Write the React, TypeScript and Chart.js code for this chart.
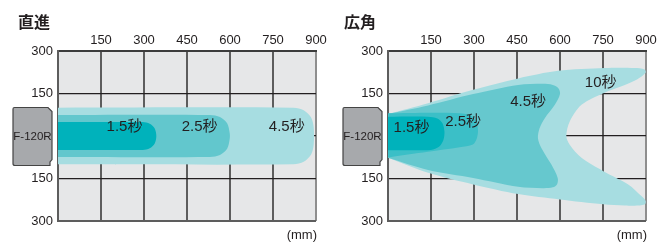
import React, { useEffect, useRef } from 'react';
import { Chart, registerables } from 'chart.js';

Chart.register(...registerables);

// ---- axes ----
const xTicks = [0, 150, 300, 450, 600, 750, 900];
const xTickLabels = ['', '150', '300', '450', '600', '750', '900'];
const yTicks = [-300, -150, 0, 150, 300];
const yTickLabels = ['300', '150', '', '150', '300'];

// ---- 直進 (straight) outlines, [mm x, mm y] ----
const straight15: number[][] = [[0, 49], [296, 49], [320, 43], [337, 27], [343, 0], [337, -27], [320, -43], [296, -49], [0, -49]];
const straight25: number[][] = [[0, 74], [530, 74], [565, 67], [590, 45], [599, 10], [599, -10], [590, -45], [565, -67], [530, -74], [0, -74]];
const straight45: number[][] = [[0, 100], [822, 100], [857, 91], [883, 65], [892, 30], [892, -30], [883, -65], [857, -91], [822, -100], [0, -100]];
const straightLabels = ['1.5秒', '2.5秒', '4.5秒'];
const straightLabelX = [232, 494, 798];
const straightLabelY = [33, 33, 33];

// ---- 広角 (wide) outlines ----
const wide15: number[][] = [[0, 68], [140, 68], [172, 62], [190, 45], [197, 15], [193, -15], [178, -38], [150, -49], [0, -50]];
const wide25: number[][] = [[0, 80], [150, 82], [250, 80], [290, 72], [308, 50], [314, 20], [310, -8], [296, -30], [250, -40], [139, -56], [0, -76]];
const wide45: number[][] = [[0, 78], [140, 108], [297, 148], [454, 180], [540, 184], [575, 180], [595, 168], [600, 148], [582, 110], [547, 63], [529, 28], [523, -8], [535, -42], [570, -101], [592, -148], [590, -170], [575, -181], [540, -184], [454, -179], [297, -148], [140, -120], [0, -77]];
const wide10: number[][] = [[0, 78], [140, 116], [297, 163], [454, 203], [593, 230], [756, 240], [860, 240], [895, 235], [899, 224], [870, 200], [826, 180], [751, 151], [675, 110], [634, 51], [622, 0], [634, -31], [675, -77], [751, -124], [838, -171], [885, -213], [899, -230], [895, -242], [860, -246], [826, -245], [751, -241], [599, -224], [454, -205], [297, -171], [140, -130], [0, -77]];
const wideLabels = ['1.5秒', '2.5秒', '4.5秒', '10秒'];
const wideLabelX = [82, 262, 489, 742];
const wideLabelY = [29, 51, 122, 186];

const sensorName = 'F-120R';
const unitLabel = '(mm)';

const TEXT = '#231f20';
const NUM_FONT = "'Liberation Sans', Arial, sans-serif";
const LABEL_FONT = "15px 'Liberation Sans', 'Noto Sans CJK JP', sans-serif";

type PanelCfg = {
  title: string;
  titleX: number;
  shapes: { data: number[][]; color: string }[];
  labels: string[];
  labelX: number[];
  labelY: number[];
};

const panels: PanelCfg[] = [
  {
    title: '直進',
    titleX: 18,
    shapes: [
      { data: straight15, color: '#00b2bb' },
      { data: straight25, color: '#62c7cd' },
      { data: straight45, color: '#a7dde1' },
    ],
    labels: straightLabels,
    labelX: straightLabelX,
    labelY: straightLabelY,
  },
  {
    title: '広角',
    titleX: 14,
    shapes: [
      { data: wide15, color: '#00b2bb' },
      { data: wide25, color: '#3bbfc7' },
      { data: wide45, color: '#66c8ce' },
      { data: wide10, color: '#a7dde1' },
    ],
    labels: wideLabels,
    labelX: wideLabelX,
    labelY: wideLabelY,
  },
];

function makeDecor(cfg: PanelCfg) {
  return {
    id: 'decor',
    beforeDraw(chart: any) {
      const { ctx, chartArea: a } = chart;
      ctx.save();
      ctx.fillStyle = '#e6e7e8';
      ctx.fillRect(a.left, a.top, a.right - a.left, a.bottom - a.top);
      ctx.restore();
    },
    afterDraw(chart: any) {
      const { ctx, chartArea: a, scales } = chart;
      const xs = scales.x;
      const ys = scales.y;
      const y0 = ys.getPixelForValue(0);
      ctx.save();
      // sensor box
      const L = a.left - 45;
      const R = a.left - 6;
      const T = y0 - 28.5;
      const B = y0 + 29.5;
      ctx.beginPath();
      ctx.moveTo(L + 1.5, T);
      ctx.lineTo(R - 4, T);
      ctx.lineTo(R, T + 4);
      ctx.lineTo(R, B - 6);
      ctx.lineTo(R - 2, B - 3.5);
      ctx.lineTo(R - 2, B);
      ctx.lineTo(L + 2, B);
      ctx.quadraticCurveTo(L, B, L, B - 2);
      ctx.lineTo(L, T + 1.5);
      ctx.quadraticCurveTo(L, T, L + 1.5, T);
      ctx.closePath();
      ctx.fillStyle = '#a7a9ac';
      ctx.fill();
      ctx.strokeStyle = '#444444';
      ctx.lineWidth = 1.2;
      ctx.stroke();
      ctx.fillStyle = TEXT;
      ctx.font = `11.5px ${NUM_FONT}`;
      ctx.textAlign = 'center';
      ctx.textBaseline = 'middle';
      ctx.fillText(sensorName, (L + R) / 2, y0 + 0.5);

      // region labels
      ctx.font = LABEL_FONT;
      ctx.fillStyle = TEXT;
      cfg.labels.forEach((t, i) => {
        ctx.fillText(t, xs.getPixelForValue(cfg.labelX[i]), ys.getPixelForValue(cfg.labelY[i]));
      });

      // title
      ctx.textAlign = 'left';
      ctx.font = "bold 16px 'Noto Sans CJK JP', sans-serif";
      ctx.fillText(cfg.title, cfg.titleX, 21.5);

      // unit
      ctx.textAlign = 'right';
      ctx.font = `13px ${NUM_FONT}`;
      ctx.fillText(unitLabel, a.right + 1, 235);
      ctx.restore();
    },
  };
}

function Panel({ cfg, left, width }: { cfg: PanelCfg; left: number; width: number }) {
  const ref = useRef<HTMLCanvasElement>(null);
  useEffect(() => {
    const canvas = ref.current!;
    const chart = new Chart(canvas, {
      type: 'line',
      data: {
        datasets: cfg.shapes.map((s) => ({
          data: s.data.map(([x, y]) => ({ x, y })),
          backgroundColor: s.color,
          borderColor: 'rgba(0,0,0,0)',
          borderWidth: 0,
          pointRadius: 0,
          pointHoverRadius: 0,
          fill: 'shape',
          tension: 0.3,
        })),
      },
      options: {
        animation: false,
        responsive: false,
        devicePixelRatio: 1,
        events: [],
        layout: { padding: { left: 8, right: width - 316, top: 0, bottom: 23 } },
        plugins: { legend: { display: false }, tooltip: { enabled: false }, title: { display: false } },
        scales: {
          x: {
            type: 'linear',
            position: 'top',
            min: 0,
            max: 900,
            z: 1,
            afterBuildTicks: (s: any) => {
              s.ticks = xTicks.map((v) => ({ value: v }));
            },
            afterFit: (s: any) => {
              s.height = 51;
            },
            ticks: {
              callback: (_v: any, i: number) => xTickLabels[i],
              color: TEXT,
              font: { family: NUM_FONT, size: 13 },
              padding: 3,
              maxRotation: 0,
              autoSkip: false,
            },
            grid: {
              drawTicks: false,
              color: (c: any) => (c.index === xTicks.length - 1 ? '#8e8e8e' : '#5d5d5d'),
              lineWidth: 2,
            },
            border: { display: true, color: '#3c3c3c', width: 2 },
          },
          y: {
            type: 'linear',
            min: -300,
            max: 300,
            z: 1,
            afterBuildTicks: (s: any) => {
              s.ticks = yTicks.map((v) => ({ value: v }));
            },
            afterFit: (s: any) => {
              s.width = 50;
            },
            ticks: {
              callback: (_v: any, i: number) => yTickLabels[i],
              color: TEXT,
              font: { family: NUM_FONT, size: 13 },
              padding: 5,
              autoSkip: false,
            },
            grid: {
              drawTicks: false,
              color: (c: any) => (c.index === 0 ? '#5d5d5d' : '#231f20'),
              lineWidth: (c: any) => (c.index === 0 || c.index === yTicks.length - 1 ? 2 : 1.2),
            },
            border: { display: true, color: '#5d5d5d', width: 2 },
          },
        },
      },
      plugins: [makeDecor(cfg)],
    } as any);
    return () => chart.destroy();
  }, []);
  return (
    <canvas
      ref={ref}
      width={width}
      height={244}
      style={{ position: 'absolute', left, top: 0, width, height: 244 }}
    />
  );
}

export default function App() {
  return (
    <div style={{ position: 'absolute', left: 0, top: 0, width: 661, height: 244, background: '#ffffff' }}>
      <Panel cfg={panels[0]} left={0} width={330} />
      <Panel cfg={panels[1]} left={330} width={331} />
    </div>
  );
}
